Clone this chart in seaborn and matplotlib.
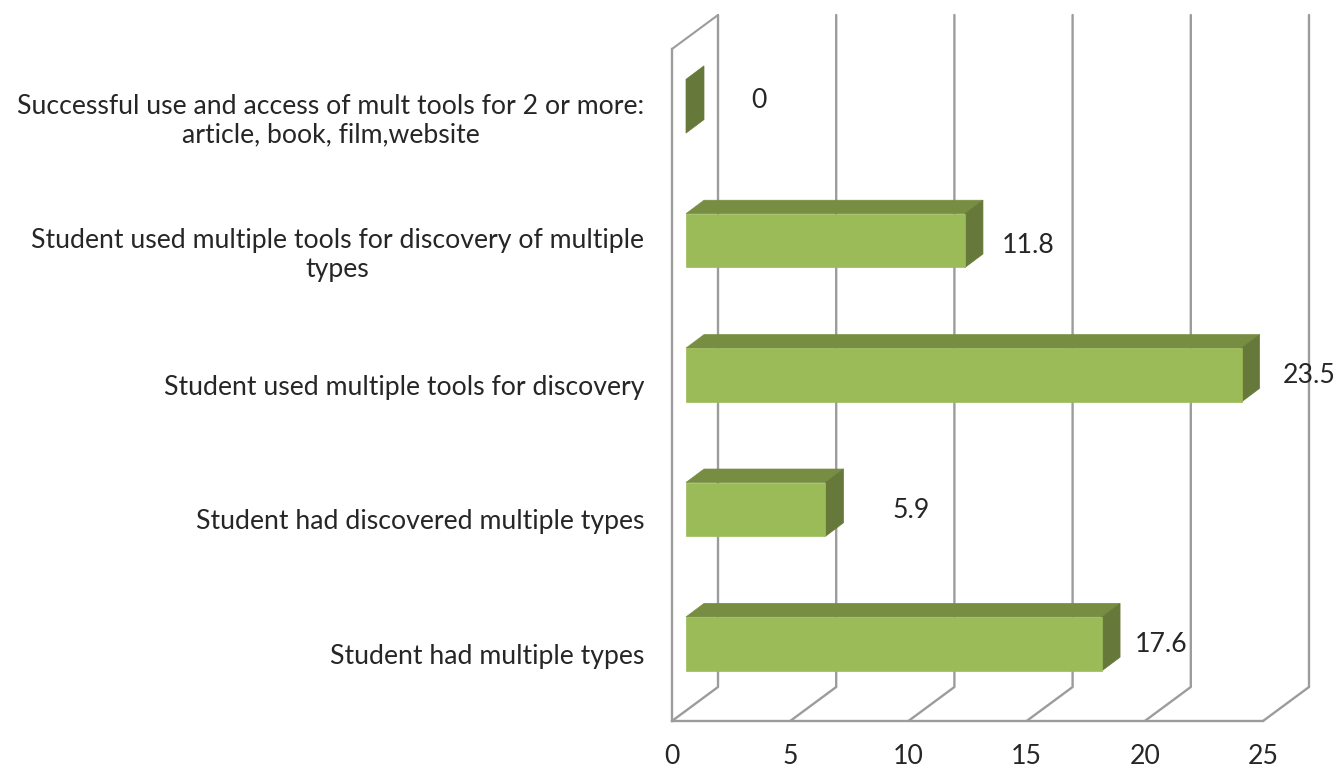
import seaborn as sns
import matplotlib.pyplot as plt
from matplotlib.patches import Polygon
from matplotlib.transforms import Affine2D, IdentityTransform

categories = ['Successful use and access of mult tools for 2 or more:\narticle, book, film,website',
              'Student used multiple tools for discovery of multiple\ntypes',
              'Student used multiple tools for discovery',
              'Student had discovered multiple types',
              'Student had multiple types']
values = [0, 11.8, 23.5, 5.9, 17.6]
x_ticks = [0, 5, 10, 15, 20, 25]

#Where the value labels sit relative to the bar end, in pixels
label_offsets = [(87, 16), (77, 5), (82, 9), (100, 9), (73, 9)]

front_color = '#9BBB59'
top_color = '#778E42'
side_color = '#66793A'
line_color = '#9C9C9C'
text_color = '#262626'
font_size = 19.2

sns.set_style('white')
plt.rcParams['font.family'] = ['Lato', 'DejaVu Sans']

fig = plt.figure(figsize=(13.4, 7.68), dpi=100)
ax = fig.add_axes([672 / 1340, 1 - 721 / 768, 591 / 1340, 672 / 768])

sns.barplot(x=values, y=categories, orient='h', width=0.4, color=front_color,
            saturation=1, ax=ax, zorder=3)
ax.set_xlim(0, 25)
ax.set_ylim(4.5, -0.5)
ax.set_xticks(x_ticks)

#Bars float off the front plane, and the back wall is pushed further back
bar_shift = Affine2D().translate(14, 10)
top_px = fig.bbox.height - 15

for tick in x_ticks:
    x_px = ax.transData.transform((tick, 0))[0]
    y_px = ax.transAxes.transform((0, 0))[1]
    fig.add_artist(plt.Line2D([x_px, x_px + 46, x_px + 46], [y_px, y_px + 34, top_px],
                              color=line_color, lw=1.7, transform=IdentityTransform(), zorder=1))

#Top edge of the left wall
x_px, y_px = ax.transAxes.transform((0, 1))
fig.add_artist(plt.Line2D([x_px, x_px + 46], [y_px, y_px + 34], color=line_color, lw=1.5,
                          transform=IdentityTransform(), zorder=1))

ax.patch.set_visible(False)
ax.set_zorder(2)
for name in ['top', 'right']:
    ax.spines[name].set_visible(False)
for name in ['left', 'bottom']:
    ax.spines[name].set_color(line_color)
    ax.spines[name].set_linewidth(1.7)

for patch in ax.patches:
    x0, y0 = patch.get_x(), patch.get_y()
    w, h = patch.get_width(), patch.get_height()
    (left, bottom) = (ax.transData + bar_shift).transform((x0, y0 + h))
    (right, top) = (ax.transData + bar_shift).transform((x0 + w, y0))
    if w > 0:
        patch.set_transform(ax.transData + bar_shift)
        patch.set_edgecolor(front_color)
        patch.set_linewidth(0.5)
        ax.add_patch(Polygon([(left, top), (right, top), (right + 18, top + 13.5), (left + 18, top + 13.5)],
                             closed=True, facecolor=top_color, edgecolor=top_color, lw=0.5,
                             transform=IdentityTransform(), zorder=2.9, clip_on=False))
    else:
        patch.set_visible(False)
    ax.add_patch(Polygon([(right, bottom), (right, top), (right + 18, top + 13.5), (right + 18, bottom + 13.5)],
                         closed=True, facecolor=side_color, edgecolor=side_color, lw=0.5,
                         transform=IdentityTransform(), zorder=2.9, clip_on=False))

for i, (val, off) in enumerate(zip(values, label_offsets)):
    ax.annotate(f'{val:g}', xy=(val, i), xytext=off, textcoords='offset pixels',
                ha='center', va='center', fontsize=font_size, color=text_color, zorder=5,
                annotation_clip=False)

ax.tick_params(axis='both', length=0, labelsize=font_size, labelcolor=text_color)
ax.tick_params(axis='y', pad=20)
ax.tick_params(axis='x', pad=16.5)
for lab in ax.get_yticklabels():
    lab.set_multialignment('center')

fig.savefig('out.png', dpi=100)
